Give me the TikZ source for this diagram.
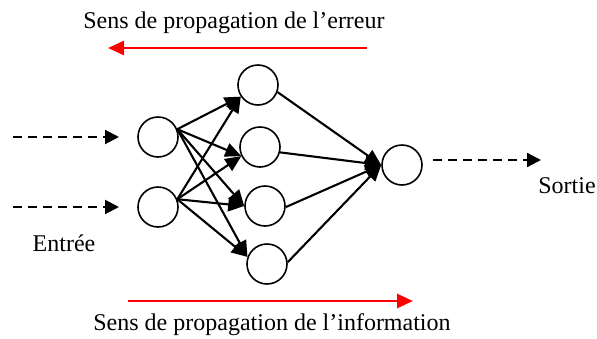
\documentclass[tikz,border=0pt]{standalone}
\usepackage{fontspec}
\setmainfont{Liberation Serif}
\usetikzlibrary{arrows.meta}
\begin{document}
\begin{tikzpicture}[x=1pt,y=-1pt,
  neuron/.style={circle,draw,line width=1.6pt,minimum size=40pt,inner sep=0pt},
  link/.style={line width=2.1pt,-{Triangle[length=16pt,width=14pt]}},
  feed/.style={line width=2.1pt,dash pattern=on 9pt off 6pt,-{Triangle[length=14pt,width=14pt]}},
  flow/.style={red,line width=2.6pt,-{Triangle[length=16pt,width=14pt]}},
  lbl/.style={font=\fontsize{24}{28}\selectfont,inner sep=0pt}]
\useasboundingbox (0,0) rectangle (597,338);

% neurons
\node[neuron] (I1) at (158,137) {};
\node[neuron] (I2) at (158,207) {};
\node[neuron] (H1) at (258,85) {};
\node[neuron] (H2) at (260,147) {};
\node[neuron] (H3) at (265,206) {};
\node[neuron] (H4) at (267,264) {};
\node[neuron] (O) at (402,165) {};

% input and output feeds
\coordinate (in1) at (13,137);
\coordinate (in1e) at (119,137);
\coordinate (in2) at (13,207);
\coordinate (in2e) at (119,207);
\coordinate (os) at (433,160);
\coordinate (oe) at (541,160);
\draw[feed] (in1) -- (in1e);
\draw[feed] (in2) -- (in2e);
\draw[feed] (os) -- (oe);

% input -> hidden connections
\foreach \h/\a in {H1/214,H2/206,H3/180,H4/160}{
  \draw[link] (I1.22) -- (\h.\a);
  \draw[link] (I2.22) -- (\h.\a);
}

% hidden -> output connections
\foreach \h/\a in {H1/-20,H2/-15,H3/-3,H4/5}{
  \draw[link] (\h.\a) -- (O.west);
}

% propagation directions
\coordinate (e1) at (367,48);
\coordinate (e2) at (108,48);
\coordinate (f1) at (128,301);
\coordinate (f2) at (413,301);
\draw[flow] (e1) -- (e2);
\draw[flow] (f1) -- (f2);

% labels
\node[lbl] (terr) at (234,23) {Sens de propagation de l’erreur};
\node[lbl] (tinf) at (272,325) {Sens de propagation de l’information};
\node[lbl] (tin) at (64,243) {Entrée};
\node[lbl] (tout) at (567,186) {Sortie};
\end{tikzpicture}
\end{document}
